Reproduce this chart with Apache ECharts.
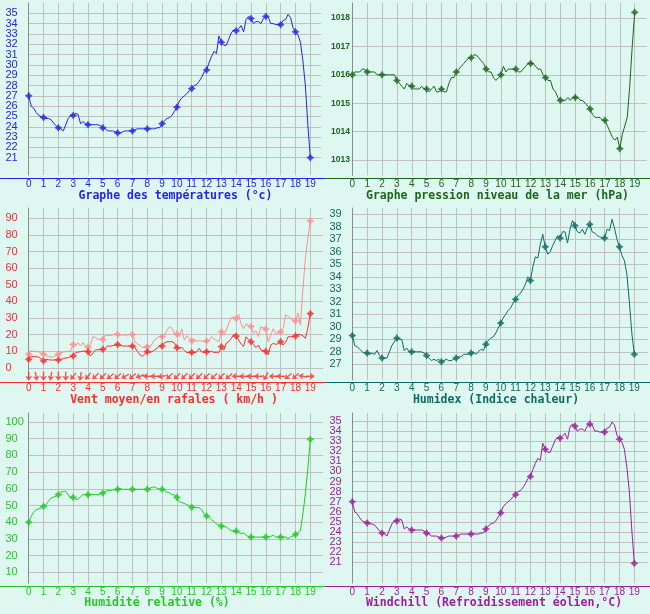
<!DOCTYPE html>
<html>
<head>
<meta charset="utf-8">
<script src="https://cdn.jsdelivr.net/npm/echarts@6/dist/echarts.min.js"></script>
<style>
  html, body { margin: 0; padding: 0; background: #dff7f1; }
  #chart { width: 650px; height: 614px; }
</style>
</head>
<body>
<div id="chart"></div>
<script>
// 10-minute readings from 00:00 to 19:00 (6 per hour)
const temperature = [
  27.0, 26.0, 25.8, 25.4, 25.1, 25.0,
  24.9, 24.8, 24.8, 24.7, 24.4, 24.1,
  23.9, 23.8, 23.6, 24.2, 24.8, 25.1,
  25.1, 25.3, 25.2, 24.3, 24.5, 24.3,
  24.2, 24.2, 24.2, 24.2, 24.2, 24.1,
  23.9, 23.8, 23.6, 23.6, 23.6, 23.5,
  23.4, 23.4, 23.5, 23.6, 23.6, 23.6,
  23.6, 23.7, 23.8, 23.8, 23.8, 23.8,
  23.8, 23.8, 23.8, 23.8, 23.9, 23.9,
  24.3, 24.6, 24.8, 24.9, 25.1, 25.5,
  25.9, 26.5, 26.8, 27.0, 27.2, 27.5,
  27.7, 28.0, 28.1, 28.4, 28.8, 29.3,
  29.5, 30.2, 30.8, 31.3, 31.1, 32.8,
  32.2, 31.9, 31.9, 32.5, 33.1, 33.4,
  33.3, 33.5, 33.8, 33.2, 34.4, 34.7,
  34.5, 34.0, 34.2, 34.2, 34.0, 34.5,
  34.7, 34.6, 34.0, 34.0, 33.9, 33.9,
  33.9, 34.3, 34.4, 34.9, 34.6, 33.6,
  33.2, 32.9, 32.2, 30.4, 28.0, 24.2,
  21.0
];

const pressure = [
  1016.0, 1016.1, 1016.1, 1016.1, 1016.2, 1016.2,
  1016.1, 1016.1, 1016.1, 1016.1, 1016.0, 1016.0,
  1016.0, 1016.0, 1016.0, 1016.0, 1016.0, 1016.0,
  1015.8, 1015.7, 1015.6, 1015.5, 1015.7, 1015.6,
  1015.6, 1015.5, 1015.5, 1015.5, 1015.6, 1015.5,
  1015.5, 1015.4, 1015.5, 1015.6, 1015.4, 1015.4,
  1015.5, 1015.4, 1015.4, 1015.7, 1015.9, 1015.9,
  1016.1, 1016.2, 1016.3, 1016.4, 1016.5, 1016.6,
  1016.6, 1016.7, 1016.7, 1016.6, 1016.5, 1016.4,
  1016.2, 1016.1, 1016.1, 1015.9, 1015.8, 1015.9,
  1016.0, 1016.3, 1016.1, 1016.2, 1016.2, 1016.2,
  1016.2, 1016.1, 1016.1, 1016.2, 1016.3, 1016.4,
  1016.4, 1016.4, 1016.3, 1016.2, 1016.2, 1016.0,
  1015.9, 1015.8, 1015.8, 1015.5, 1015.4, 1015.2,
  1015.1, 1015.1, 1015.1, 1015.2, 1015.1, 1015.2,
  1015.2, 1015.2, 1015.1, 1015.1, 1015.0, 1014.9,
  1014.8, 1014.6, 1014.5, 1014.5, 1014.5, 1014.4,
  1014.4, 1014.2, 1014.0, 1013.8, 1013.7, 1013.8,
  1013.4, 1013.9, 1014.2, 1014.5, 1015.6, 1017.0,
  1018.2
];

const windMean = [
  5.2, 7.0, 6.8, 6.8, 6.6, 5.4,
  4.2, 5.2, 5.0, 4.8, 4.8, 5.0,
  4.8, 5.2, 5.6, 6.0, 6.2, 6.8,
  7.2, 9.2, 9.6, 9.8, 10.2, 10.0,
  9.8, 7.2, 8.6, 10.8, 11.0, 11.2,
  11.2, 12.0, 13.2, 13.2, 13.4, 13.8,
  14.2, 13.6, 13.2, 13.2, 13.2, 13.2,
  13.2, 12.4, 10.0, 8.0, 7.0, 8.4,
  9.8, 9.4, 9.8, 11.0, 12.0, 13.2,
  13.2, 15.2, 15.8, 15.8, 15.8, 15.0,
  12.2, 11.8, 12.4, 10.6, 9.2, 9.4,
  9.4, 9.4, 9.6, 11.8, 9.6, 9.4,
  9.8, 9.6, 10.0, 9.4, 9.4, 9.4,
  12.8, 10.8, 15.0, 15.8, 17.8, 20.2,
  19.2, 16.8, 14.4, 13.0, 18.8, 17.0,
  15.8, 14.2, 12.2, 13.8, 10.8, 10.4,
  10.0, 8.0, 13.8, 14.8, 14.2, 14.6,
  15.8, 13.8, 15.4, 18.8, 18.8, 18.8,
  19.2, 20.2, 20.0, 19.4, 17.8, 24.0,
  32.7
];

const windGust = [
  8.4, 10.4, 10.0, 9.8, 9.8, 9.0,
  8.4, 7.2, 7.2, 6.4, 6.8, 7.6,
  8.4, 9.2, 9.6, 9.8, 10.0, 10.4,
  14.2, 13.2, 15.2, 13.4, 15.2, 13.0,
  12.6, 14.0, 18.8, 18.4, 17.2, 17.2,
  17.2, 19.8, 19.4, 19.6, 19.8, 20.6,
  20.2, 20.0, 19.8, 19.8, 19.8, 20.2,
  20.2, 15.6, 14.6, 13.6, 12.4, 12.2,
  12.8, 13.0, 14.6, 17.2, 18.0, 19.2,
  18.8, 19.8, 22.8, 24.8, 23.8, 20.8,
  20.4, 18.8, 23.4, 16.8, 19.4, 17.6,
  16.2, 17.8, 15.8, 16.6, 16.2, 16.0,
  16.2, 16.6, 18.8, 17.6, 16.6, 15.8,
  21.8, 19.8, 22.8, 27.0, 30.4, 30.6,
  29.7, 32.2, 26.6, 23.6, 26.6, 25.4,
  25.0, 20.8, 22.4, 18.8, 24.8, 24.2,
  23.4, 15.8, 19.8, 23.6, 20.8, 21.2,
  21.8, 23.6, 32.0, 31.0, 30.0, 28.6,
  28.3, 33.0, 25.8, 46.9, 65.9, 78.0,
  88.4
];

// wind direction (degrees, wind coming from), one every 30 minutes
const windDir = [
  0, 350, 0, 10, 0, 0, 40, 10, 40, 45,
  45, 50, 50, 60, 50, 70, 90, 90, 80, 45,
  45, 45, 45, 45, 45, 45, 45, 50, 90, 90,
  90, 90, 30, 90, 90, 50, 45, 100, 270
];

const humidex = [
  29.3, 28.5, 28.4, 28.2, 28.0, 27.9,
  27.9, 27.8, 27.9, 27.8, 28.1, 27.7,
  27.5, 27.5, 27.5, 28.0, 28.5, 28.8,
  29.1, 29.0, 29.0, 28.1, 28.3, 28.0,
  28.0, 28.0, 28.0, 28.0, 28.0, 27.9,
  27.7, 27.5, 27.3, 27.4, 27.3, 27.4,
  27.2, 27.3, 27.4, 27.3, 27.3, 27.4,
  27.5, 27.6, 27.6, 27.8, 27.8, 27.8,
  27.9, 28.0, 27.8, 28.0, 28.2, 28.1,
  28.6, 28.9, 29.1, 29.2, 29.5, 29.9,
  30.3, 30.7, 31.0, 31.3, 31.5, 31.9,
  32.2, 32.5, 32.7, 33.0, 33.4, 34.0,
  33.7, 34.8, 35.6, 35.5, 36.6, 37.4,
  36.4, 35.8, 36.0, 36.5, 36.9, 37.3,
  37.1, 37.6, 37.6, 36.7, 37.8, 38.5,
  38.1, 37.6, 37.5, 37.8, 37.4, 37.9,
  38.2, 37.6, 37.5, 37.3, 37.2, 37.1,
  37.1, 37.8, 37.7, 38.6, 37.9, 37.0,
  36.4, 35.7, 35.3, 34.2, 32.0, 29.5,
  27.8
];

const humidity = [
  40, 43.5, 46, 47.5, 48, 48.5,
  49.5, 50.5, 52.5, 54.5, 55, 55.5,
  56.5, 58, 58.5, 58.5, 56.5, 54.5,
  54.9, 53.7, 53.7, 55.3, 56.5, 56.5,
  56.5, 56.5, 56.5, 56.5, 56.5, 57,
  57.5, 58.5, 59, 59, 59.3, 59.5,
  59.7, 60.3, 59.7, 59.7, 59.7, 59.7,
  59.7, 59.7, 59.7, 59.7, 59.7, 59.7,
  59.7, 60.3, 60.9, 61.1, 60.3, 59.7,
  59.7, 59, 58, 57.5, 56.5, 56.3,
  54.9, 52.3, 51.7, 51.3, 50.5, 50,
  48.9, 48.9, 48.7, 48.7, 47.5, 45,
  43.7, 42.9, 41.5, 40.3, 39, 38.3,
  37.7, 37.3, 37.1, 36, 35, 34.5,
  34.7, 33.8, 33.3, 33.5, 32.3, 31.3,
  31.1, 31.1, 31.1, 31.1, 31.1, 31.1,
  31.1, 31.1, 31.5, 32.3, 31.1, 31.1,
  31.1, 31.1, 31.1, 30.1, 31.1, 31.7,
  32.7, 33.7, 35, 45, 57, 72,
  89.6
];

const windchill = [
  27.0, 26.0, 25.8, 25.4, 25.1, 25.0,
  24.9, 24.8, 24.8, 24.7, 24.4, 24.1,
  23.9, 23.8, 23.6, 24.2, 24.8, 25.1,
  25.1, 25.3, 25.2, 24.3, 24.5, 24.3,
  24.2, 24.2, 24.2, 24.2, 24.2, 24.1,
  23.9, 23.8, 23.6, 23.6, 23.6, 23.5,
  23.4, 23.4, 23.5, 23.6, 23.6, 23.6,
  23.6, 23.7, 23.8, 23.8, 23.8, 23.8,
  23.8, 23.8, 23.8, 23.8, 23.9, 23.9,
  24.3, 24.6, 24.8, 24.9, 25.1, 25.5,
  25.9, 26.5, 26.8, 27.0, 27.2, 27.5,
  27.7, 28.0, 28.1, 28.4, 28.8, 29.3,
  29.5, 30.2, 30.8, 31.3, 31.1, 32.8,
  32.2, 31.9, 31.9, 32.5, 33.1, 33.4,
  33.3, 33.5, 33.8, 33.2, 34.4, 34.7,
  34.5, 34.0, 34.2, 34.2, 34.0, 34.5,
  34.7, 34.6, 34.0, 34.0, 33.9, 33.9,
  33.9, 34.3, 34.4, 34.9, 34.6, 33.6,
  33.2, 32.9, 32.2, 30.4, 28.0, 24.2,
  20.9
];

const titles = [
  'Graphe des températures (°c)',
  'Graphe pression niveau de la mer (hPa)',
  'Vent moyen/en rafales ( km/h )',
  'Humidex (Indice chaleur)',
  'Humidité relative (%)',
  'Windchill (Refroidissement éolien,°C)'
];

const GRID_COLOR = '#c0c0c0';
const STAR = 'path://M5,0 L7,3 L10,5 L7,7 L5,10 L3,7 L0,5 L3,3 Z';
const ARROW = 'path://M3.2,0 L4.8,0 L4.8,5.6 L8,4.6 L4,10 L0,4.6 L3.2,5.6 Z';

const option = {
  backgroundColor: '#dff7f1',
  animation: false,
  grid: [], xAxis: [], yAxis: [], series: [], graphic: []
};

function addPanel(p) {
  const gi = option.grid.length;
  // frame: x axis line across the panel
  option.grid.push({ left: p.left, top: p.top, width: 325, height: p.axisY - p.top, outerBoundsMode: 'none' });
  option.xAxis.push({
    gridIndex: gi, type: 'value', min: 0, max: 1,
    axisLine: { show: true, lineStyle: { color: p.color, width: 1 } },
    axisTick: { show: false }, axisLabel: { show: false }, splitLine: { show: false }
  });
  option.yAxis.push({ gridIndex: gi, type: 'value', show: false });

  // hours: vertical grid lines and hour labels
  option.grid.push({ left: p.x0, top: p.top, width: p.x19 - p.x0, height: p.axisY - 3 - p.top, outerBoundsMode: 'none' });
  option.xAxis.push({
    gridIndex: gi + 1, type: 'value', min: 0, max: 19, interval: 1,
    axisLine: { show: false }, axisTick: { show: false },
    axisLabel: { color: p.color, fontFamily: 'Liberation Sans', fontSize: 10, margin: 4,
      showMinLabel: true, showMaxLabel: true, hideOverlap: false },
    splitLine: { show: true, showMinLine: false, lineStyle: { color: GRID_COLOR, width: 1 } }
  });
  option.yAxis.push({
    gridIndex: gi + 1, type: 'value', min: 0, max: 1,
    axisLine: { show: true, lineStyle: { color: '#8c8c8c', width: 1 } },
    axisTick: { show: false }, axisLabel: { show: false }, splitLine: { show: false }
  });

  // values: horizontal grid lines and the data
  option.grid.push({ left: p.x0, top: p.yTopPx, width: p.xr - p.x0, height: p.yBotPx - p.yTopPx, outerBoundsMode: 'none' });
  option.xAxis.push({
    gridIndex: gi + 2, type: 'value', min: 0, max: 19 * (p.xr - p.x0) / (p.x19 - p.x0), show: false
  });
  option.yAxis.push({
    gridIndex: gi + 2, type: 'value', min: p.yMin, max: p.yMax, interval: p.step,
    axisLine: { show: false }, axisTick: { show: false }, axisLabel: { show: false },
    splitLine: { show: true, showMinLine: true, showMaxLine: true, lineStyle: { color: GRID_COLOR, width: 1 } }
  });

  // value labels: axis padded by one step on each side so that no real label is dropped
  const stepPx = (p.yBotPx - p.yTopPx) * p.step / (p.yMax - p.yMin);
  option.grid.push({ left: p.x0, top: p.yTopPx - stepPx, width: 10, height: p.yBotPx - p.yTopPx + 2 * stepPx, outerBoundsMode: 'none' });
  option.xAxis.push({ gridIndex: gi + 3, type: 'value', min: 0, max: 1, show: false });
  option.yAxis.push({
    gridIndex: gi + 3, type: 'value', min: p.yMin - p.step, max: p.yMax + p.step, interval: p.step,
    axisLine: { show: false }, axisTick: { show: false }, splitLine: { show: false },
    axisLabel: {
      color: p.color, align: 'left', margin: p.x0 - p.left - p.labelX, hideOverlap: false,
      formatter: (v) => (v < p.yMin || v > p.yMax) ? '' : String(v),
      fontFamily: 'Liberation Sans', fontSize: p.labelSize || 11, fontWeight: p.labelWeight || 'normal'
    }
  });

  option.graphic.push({
    type: 'text', x: p.titleX, y: p.titleY,
    style: {
      text: p.title, fill: p.color, align: 'center', verticalAlign: 'middle',
      font: 'bold 11.5px "DejaVu Sans Mono"'
    }
  });
  return gi + 2;
}

function addLine(ai, values, color) {
  option.series.push({
    type: 'line', xAxisIndex: ai, yAxisIndex: ai,
    data: values.map((v, i) => [i / 6, v]),
    showSymbol: false, symbol: 'none', clip: false, silent: true,
    lineStyle: { color: color, width: 1 }
  });
  option.series.push({
    type: 'scatter', xAxisIndex: ai, yAxisIndex: ai,
    data: values.filter((v, i) => i % 6 === 0).map((v, h) => [h, v]),
    symbol: STAR, symbolSize: 8, clip: false, silent: true,
    itemStyle: { color: color }
  });
}

// temperature
let ai = addPanel({ left: 0, top: 3, axisY: 178, x0: 28.7, x19: 310.3, xr: 321,
  yMin: 21, yMax: 35, yTopPx: 13.3, yBotPx: 157.7, step: 1, labelX: 5.5,
  color: '#2424e6', title: titles[0], titleX: 175.5, titleY: 196 });
addLine(ai, temperature, '#2424e6');

// pressure
ai = addPanel({ left: 325, top: 3, axisY: 178.3, x0: 352.3, x19: 634.7, xr: 646.7,
  yMin: 1013, yMax: 1018, yTopPx: 18, yBotPx: 160, step: 1, labelX: 6,
  labelSize: 8.5, labelWeight: 'bold',
  color: '#1c661c', title: titles[1], titleX: 497.5, titleY: 196 });
addLine(ai, pressure, '#1c661c');

// wind
ai = addPanel({ left: 0, top: 208, axisY: 382.7, x0: 28.7, x19: 310.3, xr: 323,
  yMin: 0, yMax: 90, yTopPx: 218.3, yBotPx: 368, step: 10, labelX: 5.5,
  color: '#ff2a2a', title: titles[2], titleX: 174, titleY: 400 });
addLine(ai, windGust, '#ff8f8f');
addLine(ai, windMean, '#ff2a2a');
option.series.push({
  type: 'scatter', xAxisIndex: ai, yAxisIndex: ai, clip: false, silent: true,
  symbol: ARROW, symbolSize: [7, 9],
  itemStyle: { color: '#ff2a2a' },
  data: windDir.map((d, i) => ({ value: [i / 2, -5], symbolRotate: -d }))
});

// humidex
ai = addPanel({ left: 325, top: 208, axisY: 382.7, x0: 352.3, x19: 634.3, xr: 648,
  yMin: 27, yMax: 39, yTopPx: 214.3, yBotPx: 364.3, step: 1, labelX: 4.5,
  color: '#0f6a64', title: titles[3], titleX: 496, titleY: 400 });
addLine(ai, humidex, '#0f6a64');

// humidity
ai = addPanel({ left: 0, top: 413, axisY: 586, x0: 28.7, x19: 310.3, xr: 323,
  yMin: 10, yMax: 100, yTopPx: 422, yBotPx: 572.3, step: 10, labelX: 5.5,
  color: '#24c824', title: titles[4], titleX: 157, titleY: 603 });
addLine(ai, humidity, '#24c824');

// windchill
ai = addPanel({ left: 325, top: 413, axisY: 586, x0: 352.3, x19: 634.3, xr: 648,
  yMin: 21, yMax: 35, yTopPx: 421, yBotPx: 562.3, step: 1, labelX: 4.5,
  color: '#9c1e9c', title: titles[5], titleX: 494, titleY: 603 });
addLine(ai, windchill, '#9c1e9c');

const chart = echarts.init(document.getElementById('chart'));
chart.setOption(option);
</script>
</body>
</html>
